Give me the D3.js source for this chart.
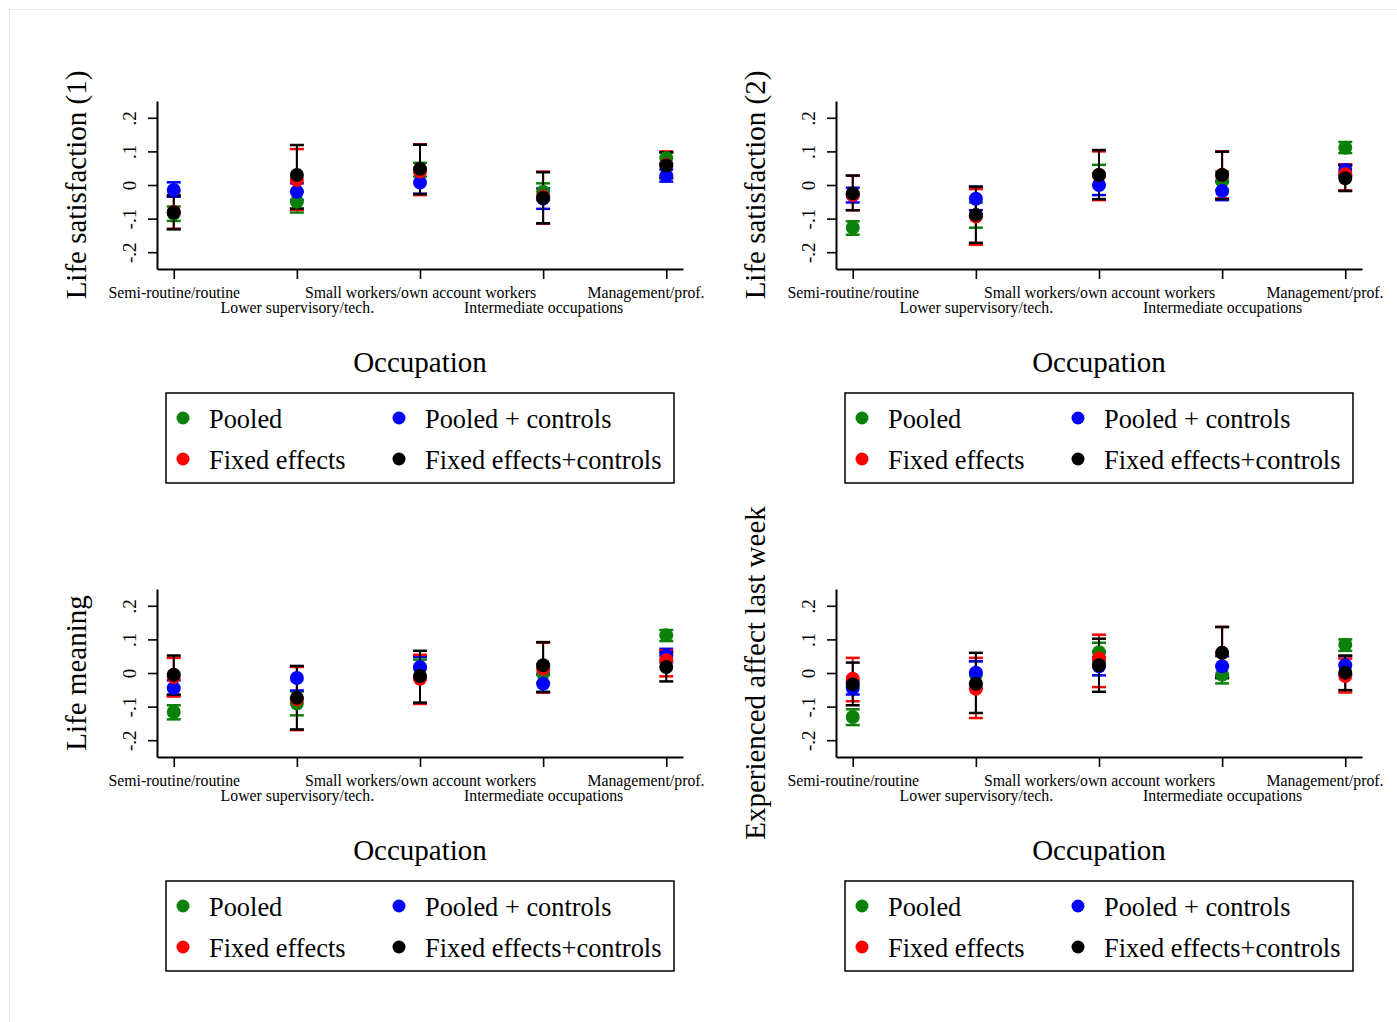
<!DOCTYPE html>
<html>
<head>
<meta charset="utf-8">
<script src="https://cdn.jsdelivr.net/npm/d3@7"></script>
<style>
  body { margin: 0; background: #fff; }
  svg { display: block; font-family: "Liberation Serif", "Times New Roman", serif; }
</style>
</head>
<body>
<div id="chart"></div>
<script>
// occupation categories (x axis)
var categories = ["Semi-routine/routine", "Lower supervisory/tech.", "Small workers/own account workers",
  "Intermediate occupations", "Management/prof."];
var yTicks = [-0.2, -0.1, 0, 0.1, 0.2];
var yTickLabels = ["-.2", "-.1", "0", ".1", ".2"];
var seriesNames = ["Pooled", "Pooled + controls", "Fixed effects", "Fixed effects+controls"];
var seriesColors = ["#0b800b", "#0000ff", "#ff0000", "#000000"];
var panelTitles = ["Life satisfaction (1)", "Life satisfaction (2)", "Life meaning", "Experienced affect last week"];

// each entry: [estimate, lower CI, upper CI], one per category
var ls1Pooled   = [[-0.085, -0.107, -0.064], [-0.05, -0.082, -0.02], [0.045, 0.025, 0.066], [-0.02, -0.045, 0.005], [0.08, 0.065, 0.097]];
var ls1Controls = [[-0.015, -0.035, 0.008], [-0.02, -0.045, 0.005], [0.007, -0.026, 0.04], [-0.04, -0.071, -0.01], [0.028, 0.01, 0.046]];
var ls1Fe       = [[-0.08, -0.13, -0.03], [0.015, -0.074, 0.107], [0.04, -0.03, 0.121], [-0.035, -0.115, 0.04], [0.06, 0.022, 0.1]];
var ls1FeCtrl   = [[-0.082, -0.132, -0.032], [0.03, -0.07, 0.119], [0.048, -0.027, 0.12], [-0.038, -0.114, 0.038], [0.058, 0.02, 0.097]];

var ls2Pooled   = [[-0.127, -0.148, -0.108], [-0.09, -0.127, -0.052], [0.03, 0.0, 0.06], [0.012, -0.015, 0.04], [0.111, 0.095, 0.128]];
var ls2Controls = [[-0.03, -0.052, -0.008], [-0.041, -0.075, -0.005], [0.0, -0.03, 0.03], [-0.018, -0.045, 0.01], [0.045, 0.028, 0.061]];
var ls2Fe       = [[-0.03, -0.075, 0.028], [-0.094, -0.178, -0.012], [0.03, -0.045, 0.1], [0.03, -0.04, 0.1], [0.032, -0.016, 0.061]];
var ls2FeCtrl   = [[-0.025, -0.075, 0.028], [-0.089, -0.172, -0.005], [0.03, -0.042, 0.104], [0.03, -0.042, 0.099], [0.02, -0.018, 0.058]];

var lmPooled    = [[-0.116, -0.138, -0.096], [-0.091, -0.126, -0.055], [0.015, -0.01, 0.04], [-0.002, -0.03, 0.025], [0.112, 0.095, 0.128]];
var lmControls  = [[-0.045, -0.068, -0.022], [-0.015, -0.052, 0.02], [0.018, -0.01, 0.048], [-0.032, -0.058, -0.005], [0.052, 0.032, 0.072]];
var lmFe        = [[-0.012, -0.07, 0.045], [-0.078, -0.17, 0.018], [-0.017, -0.092, 0.054], [0.013, -0.058, 0.09], [0.038, -0.01, 0.068]];
var lmFeCtrl    = [[-0.005, -0.064, 0.052], [-0.074, -0.168, 0.021], [-0.009, -0.088, 0.066], [0.023, -0.056, 0.092], [0.018, -0.025, 0.062]];

var eaPooled    = [[-0.131, -0.155, -0.108], [-0.005, -0.045, 0.035], [0.062, 0.035, 0.09], [-0.005, -0.031, 0.02], [0.084, 0.066, 0.1]];
var eaControls  = [[-0.045, -0.064, -0.025], [0.001, -0.033, 0.035], [0.02, -0.007, 0.047], [0.02, -0.01, 0.05], [0.023, -0.005, 0.05]];
var eaFe        = [[-0.017, -0.084, 0.045], [-0.047, -0.134, 0.045], [0.043, -0.042, 0.114], [0.06, -0.015, 0.137], [-0.009, -0.058, 0.043]];
var eaFeCtrl    = [[-0.034, -0.096, 0.031], [-0.032, -0.119, 0.06], [0.023, -0.056, 0.102], [0.06, -0.015, 0.137], [0.001, -0.051, 0.052]];

var panels = [
  {title: panelTitles[0], series: [ls1Pooled, ls1Controls, ls1Fe, ls1FeCtrl], x: 157, y: 101},
  {title: panelTitles[1], series: [ls2Pooled, ls2Controls, ls2Fe, ls2FeCtrl], x: 836, y: 101},
  {title: panelTitles[2], series: [lmPooled, lmControls, lmFe, lmFeCtrl], x: 157, y: 589},
  {title: panelTitles[3], series: [eaPooled, eaControls, eaFe, eaFeCtrl], x: 836, y: 589}
];

var W = 1397, H = 1022;
var plotW = 526, plotH = 168;

var svg = d3.select("#chart").append("svg")
  .attr("width", W)
  .attr("height", H);

svg.append("rect").attr("width", W).attr("height", H).attr("fill", "#fff");
// faint outer frame
svg.append("rect")
  .attr("x", 9.5).attr("y", 9.5)
  .attr("width", W + 20).attr("height", H + 20)
  .attr("fill", "none")
  .attr("stroke", "#e6eaec")
  .attr("stroke-width", 1);

var x = d3.scaleLinear().domain([0.864, 5.136]).range([0, plotW]);
var y = d3.scaleLinear().domain([-0.25, 0.25]).range([plotH, 0]);

panels.forEach(function(p) {
  var g = svg.append("g").attr("transform", "translate(" + p.x + "," + p.y + ")");

  // y axis
  var yAxis = d3.axisLeft(y)
    .tickValues(yTicks)
    .tickFormat(function(d, i) { return yTickLabels[i]; })
    .tickSize(9)
    .tickSizeOuter(0);
  var ya = g.append("g").call(yAxis);
  ya.select(".domain").attr("stroke", "#000").attr("stroke-width", 2);
  ya.selectAll(".tick line").attr("stroke", "#000").attr("stroke-width", 1.6);
  ya.selectAll(".tick text")
    .attr("x", null).attr("dy", null)
    .attr("text-anchor", "middle")
    .attr("transform", "translate(-21,0) rotate(-90)")
    .attr("fill", "#000")
    .style("font-size", "19px")
    .style("font-family", "'Liberation Serif', serif");

  // x axis
  var xAxis = d3.axisBottom(x)
    .tickValues([1, 2, 3, 4, 5])
    .tickFormat(function(d) { return categories[d - 1]; })
    .tickSize(10)
    .tickSizeOuter(0);
  var xa = g.append("g").attr("transform", "translate(0," + plotH + ")").call(xAxis);
  xa.select(".domain").attr("stroke", "#000").attr("stroke-width", 2);
  xa.selectAll(".tick line").attr("stroke", "#000").attr("stroke-width", 1.6);
  xa.selectAll(".tick text")
    .attr("dy", null)
    .attr("y", function(d, i) { return i % 2 === 0 ? 29 : 44; })
    .attr("fill", "#000")
    .style("font-size", "15.8px")
    .style("font-family", "'Liberation Serif', serif");
  // last label is pulled inside the plot edge
  xa.selectAll(".tick text").filter(function(d) { return d === 5; })
    .attr("text-anchor", "end")
    .attr("x", plotW + 21 - x(5));

  // axis titles
  g.append("text")
    .attr("transform", "translate(-71," + (plotH / 2) + ") rotate(-90)")
    .attr("text-anchor", "middle")
    .style("font-size", "29px")
    .text(p.title);

  g.append("text")
    .attr("x", plotW / 2)
    .attr("y", plotH + 103)
    .attr("text-anchor", "middle")
    .style("font-size", "29px")
    .text("Occupation");

  // error bars first, then markers
  p.series.forEach(function(s, si) {
    var col = seriesColors[si];
    var bars = g.append("g");
    bars.selectAll("line.ci")
      .data(s).enter().append("line")
      .attr("x1", function(d, i) { return x(i + 1); })
      .attr("x2", function(d, i) { return x(i + 1); })
      .attr("y1", function(d) { return y(d[1]); })
      .attr("y2", function(d) { return y(d[2]); })
      .attr("stroke", col).attr("stroke-width", 2);
    [1, 2].forEach(function(k) {
      bars.selectAll("line.cap" + k)
        .data(s).enter().append("line")
        .attr("x1", function(d, i) { return x(i + 1) - 7; })
        .attr("x2", function(d, i) { return x(i + 1) + 7; })
        .attr("y1", function(d) { return y(d[k]); })
        .attr("y2", function(d) { return y(d[k]); })
        .attr("stroke", col).attr("stroke-width", 2.5);
    });
  });

  p.series.forEach(function(s, si) {
    g.append("g").selectAll("circle")
      .data(s).enter().append("circle")
      .attr("cx", function(d, i) { return x(i + 1); })
      .attr("cy", function(d) { return y(d[0]); })
      .attr("r", 7)
      .attr("fill", seriesColors[si]);
  });

  // legend
  var lg = g.append("g").attr("transform", "translate(9," + 292 + ")");
  lg.append("rect")
    .attr("width", 508).attr("height", 90)
    .attr("fill", "#fff").attr("stroke", "#000").attr("stroke-width", 1.5);
  seriesNames.forEach(function(name, i) {
    var col = i % 2, row = Math.floor(i / 2);
    var lx = col === 0 ? 17 : 233;
    var ly = row === 0 ? 25 : 66;
    lg.append("circle")
      .attr("cx", lx).attr("cy", ly).attr("r", 6.5)
      .attr("fill", seriesColors[i]);
    lg.append("text")
      .attr("x", lx + 26).attr("y", ly + 10)
      .style("font-size", "26.4px")
      .text(name);
  });
});
</script>
</body>
</html>
